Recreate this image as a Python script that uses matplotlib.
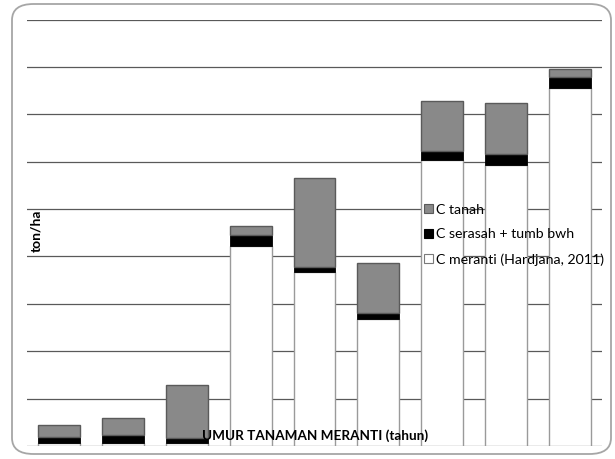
import matplotlib
matplotlib.use("Agg")
import matplotlib.pyplot as plt
from matplotlib.patches import FancyBboxPatch, Patch

plt.rcParams['font.family'] = ['Lato', 'DejaVu Sans']

# Stand ages (bars, left to right); the axis carries no tick labels
categories = ["1", "2", "3", "4", "5", "6", "7", "8", "9"]

# Carbon stocks (ton/ha) per stand, stacked bottom to top
c_meranti = [2.8, 3.5, 2.8, 211.3, 183.3, 134.3, 301.8, 296.5, 378.0]
c_serasah = [6.3, 8.1, 5.3, 11.0, 5.9, 6.3, 9.8, 11.3, 11.0]
c_tanah = [13.3, 17.6, 56.2, 9.5, 93.3, 52.1, 52.4, 54.1, 8.4]

y_max = 450
y_step = 50

W, H = 615, 459
fig = plt.figure(figsize=(W / 100, H / 100), dpi=100)

# rounded chart-area frame
frame = FancyBboxPatch((12 / W, 5 / H), 599 / W, 450 / H,
                       boxstyle="round,pad=0,rounding_size=0.035",
                       transform=fig.transFigure, facecolor="none",
                       edgecolor="#a6a6a6", linewidth=1.3, zorder=-1)
fig.patches.append(frame)

ax = fig.add_axes([27.3 / W, 13 / H, 574.4 / W, 426.5 / H])
ax.set_facecolor("none")

x = list(range(len(categories)))
width = 0.655

bottom2 = [a for a in c_meranti]
bottom3 = [a + b for a, b in zip(c_meranti, c_serasah)]

ax.bar(x, c_meranti, width, color="white", edgecolor="#9a9a9a",
       linewidth=1.0, zorder=3)
ax.bar(x, c_serasah, width, bottom=bottom2, color="black",
       edgecolor="black", linewidth=0.6, zorder=3)
ax.bar(x, c_tanah, width, bottom=bottom3, color="#898989",
       edgecolor="#5a5a5a", linewidth=1.0, zorder=3)

# horizontal grid
for v in range(0, y_max + 1, y_step):
    ax.axhline(v, color="#595959", linewidth=0.9, zorder=1)

ax.set_xlim(-0.5, len(categories) - 0.5)
ax.set_ylim(0, y_max)
ax.set_xticks([])
ax.set_yticks([])
for s in ax.spines.values():
    s.set_visible(False)

handles = [
    Patch(facecolor="#898989", edgecolor="#5a5a5a", linewidth=0.8, label="C tanah"),
    Patch(facecolor="black", edgecolor="black", linewidth=0.8, label="C serasah + tumb bwh"),
    Patch(facecolor="white", edgecolor="#7a7a7a", linewidth=0.8, label="C meranti (Hardjana, 2011)"),
]
leg = fig.legend(handles=handles, loc="upper left",
                 bbox_to_anchor=(424 / W, 1 - 203.5 / H),
                 frameon=False, fontsize=10.2, handlelength=0.6,
                 handleheight=0.6, handletextpad=0.25, labelspacing=0.9,
                 borderpad=0, borderaxespad=0)
leg.set_zorder(10)

fig.text(36 / W, 1 - 231 / H, "ton/ha", rotation=90, ha="center",
         va="center", fontsize=10, fontweight="bold")
fig.text(315 / W, 1 - 436 / H, "UMUR TANAMAN MERANTI (tahun)", ha="center",
         va="center", fontsize=9.7, fontweight="bold", zorder=10)

fig.savefig("out.png", dpi=100)
